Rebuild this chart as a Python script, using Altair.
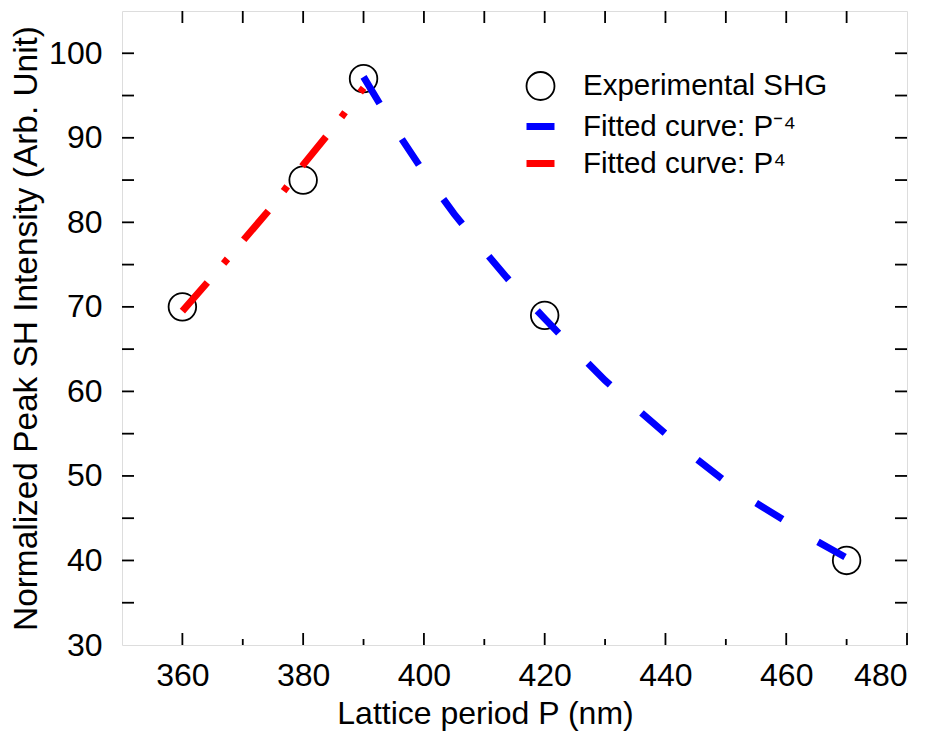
import altair as alt
import pandas as pd

# ---- data ----
exp_P = [360, 380, 390, 420, 470]
exp_I = [70.0, 85.0, 97.0, 69.0, 40.0]

blue_P = [390, 395, 400, 405, 410, 415, 420, 425, 430, 435, 440, 445, 450, 455, 460, 465, 470]
blue_I = [97.2, 91.3, 85.9, 81.0, 76.6, 72.4, 68.6, 64.9, 61.3, 58.1, 55.0, 52.1, 49.3, 46.8, 44.6, 42.3, 40.3]

red_P = [360, 365, 370, 375, 380, 385, 390]
red_I = [69.5, 73.6, 77.8, 82.0, 86.8, 91.2, 95.9]

series_names = ["Experimental SHG", "Fitted curve: P\u207b\u2074", "Fitted curve: P\u2074"]
series_colors = ["black", "#0000ff", "#ff0000"]
series_shapes = ["circle", "stroke", "stroke"]
series_widths = [1.8, 7, 7]

x_label_values = [360, 380, 400, 420, 440, 460, 480]
x_minor_values = [370, 390, 410, 430, 450, 470]
x_top_values = [360, 370, 380, 390, 400, 410, 420, 430, 440, 450, 460, 470]
y_label_values = [30, 40, 50, 60, 70, 80, 90, 100]
y_tick_values = [35, 40, 45, 50, 55, 60, 65, 70, 75, 80, 85, 90, 95, 100]

W, H = 785, 634
FONT = "Liberation Sans"

exp_df = pd.DataFrame({"P": exp_P, "I": exp_I, "series": series_names[0]})
blue_df = pd.DataFrame({"P": blue_P, "I": blue_I, "series": series_names[1]})
red_df = pd.DataFrame({"P": red_P, "I": red_I, "series": series_names[2]})

xscale = alt.Scale(domain=[350, 480], nice=False, zero=False)
yscale = alt.Scale(domain=[30, 105], nice=False, zero=False)

legend = alt.Legend(
    title=None, orient="none", legendX=401, legendY=60,
    labelFontSize=29.5, labelFont=FONT, labelColor="black", labelLimit=0,
    symbolSize=784, labelOffset=25, rowPadding=5, padding=0,
    symbolFillColor="transparent", symbolOpacity=1,
)
color = alt.Color("series:N", scale=alt.Scale(domain=series_names, range=series_colors), legend=legend)
swidth = alt.StrokeWidth("series:N", scale=alt.Scale(type="ordinal", domain=series_names, range=series_widths),
                         legend=legend)
shape = alt.Shape("series:N", scale=alt.Scale(domain=series_names, range=series_shapes), legend=legend)

xaxis = alt.Axis(values=x_label_values, ticks=False, domain=False, grid=False,
                 labelFontSize=32, labelFont=FONT, labelColor="black", labelPadding=15,
                 title="Lattice period P (nm)", titleFontSize=32, titleFont=FONT,
                 titleFontWeight="normal", titleColor="black",
                 titleX=363, titleY=78, titleBaseline="alphabetic", titleAlign="center")
yaxis = alt.Axis(values=y_label_values, ticks=False, domain=False, grid=False,
                 labelFontSize=32, labelFont=FONT, labelColor="black", labelPadding=20,
                 title="Normalized Peak SH Intensity (Arb. Unit)", titleFontSize=33.4, titleFont=FONT,
                 titleFontWeight="normal", titleColor="black", titlePadding=5)

points = alt.Chart(exp_df).mark_point(filled=False, size=760, opacity=1).encode(
    x=alt.X("P:Q", scale=xscale, axis=xaxis),
    y=alt.Y("I:Q", scale=yscale, axis=yaxis),
    color=color, shape=shape, strokeWidth=swidth,
)
blue = alt.Chart(blue_df).mark_line(strokeDash=[31, 42], strokeCap="butt").encode(
    x="P:Q", y="I:Q", color=color, strokeWidth=swidth,
)
red = alt.Chart(red_df).mark_line(strokeDash=[38, 25, 6, 25], strokeCap="butt").encode(
    x="P:Q", y="I:Q", color=color, strokeWidth=swidth,
)

tick_style = dict(color="black", strokeWidth=1.8)
bx = pd.DataFrame({"v": x_label_values})
bxm = pd.DataFrame({"v": x_minor_values})
tx = pd.DataFrame({"v": x_top_values})
yt = pd.DataFrame({"v": y_tick_values})

bottom_major = alt.Chart(bx).mark_rule(**tick_style).encode(
    x=alt.X("v:Q", scale=xscale), y=alt.value(H), y2=alt.value(H - 12))
bottom_minor = alt.Chart(bxm).mark_rule(**tick_style).encode(
    x=alt.X("v:Q", scale=xscale), y=alt.value(H), y2=alt.value(H - 6))
top_ticks = alt.Chart(tx).mark_rule(**tick_style).encode(
    x=alt.X("v:Q", scale=xscale), y=alt.value(0), y2=alt.value(12))
left_ticks = alt.Chart(yt).mark_rule(**tick_style).encode(
    y=alt.Y("v:Q", scale=yscale), x=alt.value(0), x2=alt.value(12))
right_ticks = alt.Chart(yt).mark_rule(**tick_style).encode(
    y=alt.Y("v:Q", scale=yscale), x=alt.value(W), x2=alt.value(W - 12))

chart = alt.layer(
    bottom_major, bottom_minor, top_ticks, left_ticks, right_ticks, points, blue, red
).properties(
    width=W, height=H,
    padding={"left": 1, "top": 2, "right": 5, "bottom": 5},
).configure_view(
    stroke="black", strokeWidth=2, fill="white"
).configure(background="white")

chart.save("out.html", embed_options={"renderer": "svg", "actions": False})
